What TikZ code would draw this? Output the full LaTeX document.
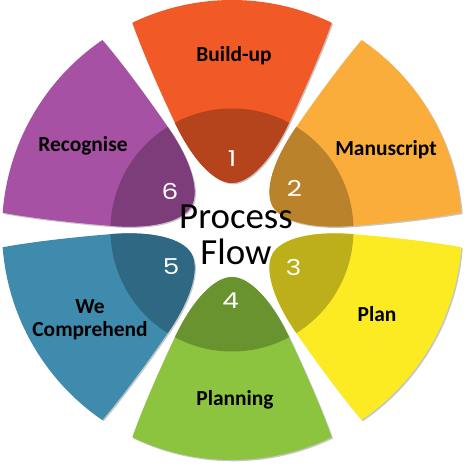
\documentclass[tikz,border=0pt]{standalone}
\usepackage{fontspec}
\setmainfont{Carlito}
\newfontfamily\numfont{Poppins}
\definecolor{pA}{RGB}{241,90,38}
\definecolor{pB}{RGB}{250,173,58}
\definecolor{pC}{RGB}{252,234,35}
\definecolor{pD}{RGB}{140,196,63}
\definecolor{pE}{RGB}{63,139,173}
\definecolor{pF}{RGB}{166,81,163}
\newcommand\petalpath{(-57,107) .. controls (-75,145) and (-90,180) .. (115.7:230)
  arc[start angle=115.7,end angle=64.3,radius=230bp]
  .. controls (90,180) and (75,145) .. (57,107)
  .. controls (40,71) and (18,47) .. (0,47)
  .. controls (-18,47) and (-40,71) .. (-57,107) -- cycle}
\tikzset{
  lbl/.style={font=\fontsize{21.5}{23}\selectfont\bfseries, text=black, align=center, inner sep=0pt},
  num/.style={font=\fontsize{22}{22}\selectfont\numfont, text=white, inner sep=0pt, xscale=1.2},
  big/.style={font=\fontsize{37}{36}\selectfont, text=black, inner sep=0pt}
}
\begin{document}
\begin{tikzpicture}[x=1bp,y=1bp]
\useasboundingbox (-232,-238) rectangle (236,230);
\foreach \a/\c in {90/pA,30/pB,-30/pC,-90/pD,210/pE,150/pF}{
  \begin{scope}[shift={(1.3,-1.3)},rotate=\a-90]
    \fill[gray!45] \petalpath;
  \end{scope}
  \begin{scope}[rotate=\a-90]
    \fill[\c] \petalpath;
    \clip \petalpath;
    \fill[\c!75!black] (0,0) circle[radius=121.5bp];
  \end{scope}
}
\node[lbl] (t1) at (2,174) {Build-up};
\node[lbl] (t2) at (154,80) {Manuscript};
\node[lbl] (t3) at (145,-84) {Plan};
\node[lbl] (t4) at (3,-170) {Planning};
\node[lbl] (t5) at (-142,-90) {We\\Comprehend};
\node[lbl] (t6) at (-149,84) {Recognise};
\node[num] (n1) at (90:71) {1};
\node[num] (n2) at (33.5:75) {2};
\node[num] (n3) at (-31:72) {3};
\node[num] (n4) at (-91:71) {4};
\node[num] (n5) at (211:71) {5};
\node[num] (n6) at (148:73) {6};
\node[big, anchor=base] (pr) at (4,1) {Process};
\node[big, anchor=base] (fl) at (4,-35) {Flow};
\end{tikzpicture}
\end{document}
